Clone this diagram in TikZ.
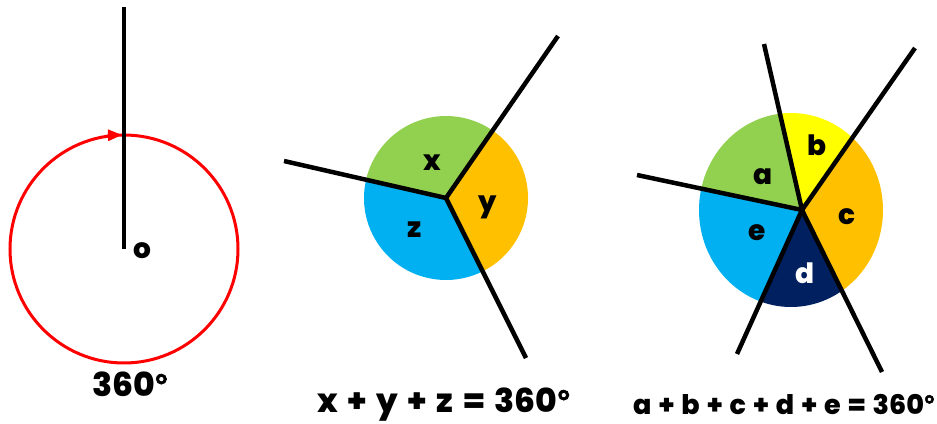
\documentclass[tikz,border=0pt]{standalone}
\usepackage{fontspec}
\IfFontExistsTF{Poppins ExtraBold}{%
  \setmainfont{Poppins ExtraBold}\def\mywt{}}{%
  \setmainfont{Poppins}[FakeBold=3]\def\mywt{\bfseries}}
\newfontfamily\degfont{Liberation Sans}[FakeBold=2]
\usetikzlibrary{arrows.meta,calc}
\definecolor{cgreen}{HTML}{92D050}
\definecolor{corange}{HTML}{FFC000}
\definecolor{cblue}{HTML}{00B0F0}
\definecolor{cyellow}{HTML}{FFFF00}
\definecolor{cnavy}{HTML}{002060}
\definecolor{cred}{HTML}{FF0000}
\newcommand{\dg}{{\degfont\bfseries °}}
\newcommand{\gA}{\hspace{9.5pt}}
\newcommand{\gB}{\hspace{7pt}}
\tikzset{
  ray/.style={line width=4.5pt, line cap=butt},
  lbl/.style={font=\fontsize{28}{30}\selectfont\mywt, inner sep=0pt},
  captext/.style={font=\fontsize{33}{36}\selectfont\mywt, inner sep=0pt, anchor=base},
  captextsm/.style={font=\fontsize{27}{30}\selectfont\mywt, inner sep=0pt, anchor=base},
}
\begin{document}
\begin{tikzpicture}[x=1pt,y=1pt]
\useasboundingbox (0,0) rectangle (937,423);
% ---------- Figure 1 ----------
\coordinate (O1) at (124,174);
\coordinate (T1) at (124,416);
\draw[cred, line width=3pt] (O1) circle (114);
\draw[cred, line width=3pt, -{Triangle[length=14pt,width=11pt]}] ($(O1)+(100:114)$) arc (100:91:114);
\draw[ray] (O1) -- (T1);
\node[lbl] (o1) at (142,172) {o};
\node[captext] (c1) at (130,26) {360\dg};
% ---------- Figure 2 ----------
\coordinate (O2) at (446,225);
\fill[cgreen] (O2) -- ++(55.2:82) arc (55.2:167.5:82) -- cycle;
\fill[cblue] (O2) -- ++(167.5:82) arc (167.5:296.4:82) -- cycle;
\fill[corange] (O2) -- ++(-63.6:82) arc (-63.6:55.2:82) -- cycle;
\coordinate (A2) at (558,387);
\coordinate (B2) at (284,262);
\coordinate (C2) at (526,65);
\draw[ray] (O2) -- (A2);
\draw[ray] (O2) -- (B2);
\draw[ray] (O2) -- (C2);
\node[lbl] (x) at (432,260) {x};
\node[lbl] (y) at (488,216) {y};
\node[lbl] (z) at (415,193) {z};
\node[captext] (c2) at (444,10) {x\gA+\gA y\gA+\gA z\gA=\gA 360\dg};
% ---------- Figure 3 ----------
\coordinate (O3) at (802,213);
\begin{scope}
\clip (791,213) ellipse (92 and 97);
\fill[cyellow] (O3) -- ++(54.9:200) arc (54.9:102.9:200) -- cycle;
\fill[cgreen] (O3) -- ++(102.9:200) arc (102.9:168:200) -- cycle;
\fill[cblue] (O3) -- ++(168:200) arc (168:245.7:200) -- cycle;
\fill[cnavy] (O3) -- ++(245.7:200) arc (245.7:296.3:200) -- cycle;
\fill[corange] (O3) -- ++(296.3:200) arc (296.3:414.9:200) -- cycle;
\end{scope}
\coordinate (A3) at (764,379);
\coordinate (B3) at (915,375);
\coordinate (C3) at (637,248);
\coordinate (D3) at (737,69);
\coordinate (E3) at (882,51);
\foreach \p in {A3,B3,C3,D3,E3} \draw[ray] (O3) -- (\p);
\node[lbl] (a) at (763,246) {a};
\node[lbl] (b) at (817,278) {b};
\node[lbl] (c) at (847,206) {c};
\node[lbl, text=white] (d) at (805,150) {d};
\node[lbl] (e) at (757,190) {e};
\node[captextsm] (c3) at (784,9) {a\gB+\gB b\gB+\gB c\gB+\gB d\gB+\gB e\gB=\gB 360\dg};
\end{tikzpicture}
\end{document}
